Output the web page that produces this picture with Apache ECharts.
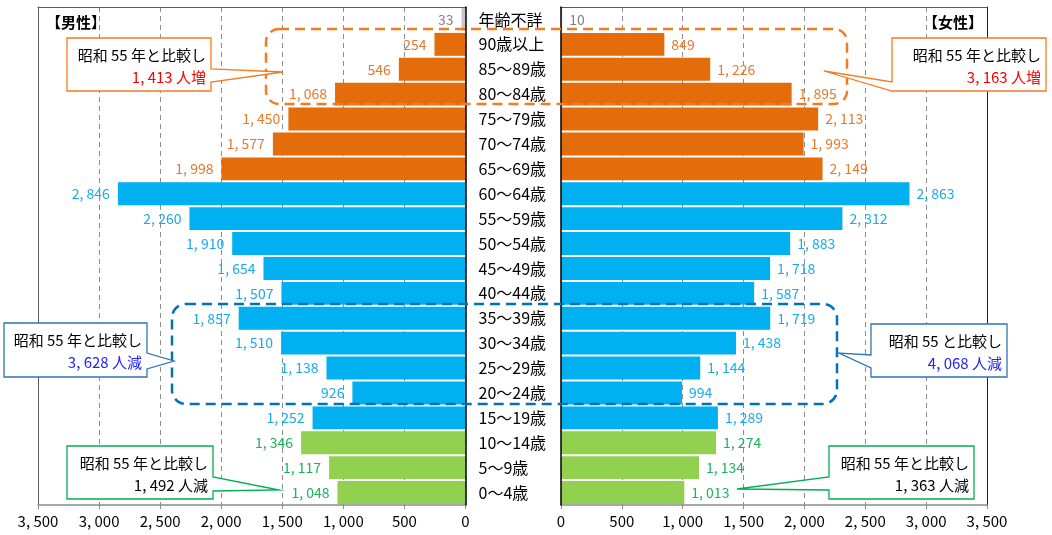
<!DOCTYPE html>
<html>
<head>
<meta charset="utf-8">
<script src="https://cdn.jsdelivr.net/npm/echarts@6/dist/echarts.min.js"></script>
<style>
  html, body { margin: 0; padding: 0; background: #ffffff; }
  #chart { width: 1052px; height: 535px; }
</style>
</head>
<body>
<div id="chart"></div>
<script>
// Age classes, top row first
const categories = [
  '年齢不詳', '90歳以上', '85～89歳', '80～84歳', '75～79歳', '70～74歳', '65～69歳',
  '60～64歳', '55～59歳', '50～54歳', '45～49歳', '40～44歳', '35～39歳', '30～34歳',
  '25～29歳', '20～24歳', '15～19歳', '10～14歳', '5～9歳', '0～4歳'
];
// Population (persons) by age class
const maleValues = [
  33, 254, 546, 1068, 1450, 1577, 1998,
  2846, 2260, 1910, 1654, 1507, 1857, 1510,
  1138, 926, 1252, 1346, 1117, 1048
];
const femaleValues = [
  10, 849, 1226, 1895, 2113, 1993, 2149,
  2863, 2312, 1883, 1718, 1587, 1719, 1438,
  1144, 994, 1289, 1274, 1134, 1013
];
// Value axis range
const axisMin = 0;
const axisMax = 3500;
const axisStep = 500;

// Panel headings
const sideTitles = ['【男性】', '【女性】'];

// Comparison notes (change since Showa 55)
const calloutHeads = [
  '昭和 55 年と比較し', '昭和 55 年と比較し',
  '昭和 55 年と比較し', '昭和 55 と比較し',
  '昭和 55 年と比較し', '昭和 55 年と比較し'
];
const calloutCounts = ['1,413', '3,163', '3,628', '4,068', '1,492', '1,363'];
const calloutUnits = ['人増', '人増', '人減', '人減', '人減', '人減'];

// ---------------------------------------------------------------------------
const CJK_FONT = '"Noto Sans CJK JP", "Noto Sans", sans-serif';
const NUM_FONT = '"Noto Sans CJK JP", "Noto Sans", sans-serif';

const palette = {
  unknown: { bar: '#C8C8C8', label: '#808080' },
  elderly: { bar: '#E46C0A', label: '#E8782A' },
  working: { bar: '#00B0F0', label: '#1AABE8' },
  young:   { bar: '#92D050', label: '#1DB25A' }
};

function ageGroup(name) {
  const lower = parseInt(name, 10);
  if (isNaN(lower)) return 'unknown';
  if (lower >= 65) return 'elderly';
  if (lower >= 15) return 'working';
  return 'young';
}

// thousands separator followed by a space, as printed on the chart
function fmt(v) {
  return Number(v).toLocaleString('en-US').replace(/,/g, ', ');
}

function barData(values) {
  return values.map((v, i) => {
    const c = palette[ageGroup(categories[i])];
    return { value: v, itemStyle: { color: c.bar }, label: { color: c.label } };
  });
}

const gridTop = 7, gridBottom = 30;
const grids = [
  { left: 38, right: 586.5, top: gridTop, bottom: gridBottom },
  { left: 561, right: 65, top: gridTop, bottom: gridBottom }
];

function valueAxis(gridIndex, inverse) {
  return {
    type: 'value', gridIndex, min: axisMin, max: axisMax, interval: axisStep,
    inverse, position: 'bottom',
    axisLine: { show: true, onZero: false, lineStyle: { color: '#8C8C8C', width: 1.5 } },
    axisTick: { show: true, length: 4, lineStyle: { color: '#8C8C8C' } },
    axisLabel: { formatter: fmt, color: '#000', fontFamily: NUM_FONT, fontSize: 15, margin: 9,
                 showMinLabel: true, showMaxLabel: true, hideOverlap: false },
    splitLine: { show: true, lineStyle: { color: '#8C8C8C', type: [5, 4], width: 1 } }
  };
}
// top frame line of each panel
function topAxis(gridIndex, inverse) {
  return {
    type: 'value', gridIndex, min: axisMin, max: axisMax, inverse, position: 'top',
    axisLine: { show: true, onZero: false, lineStyle: { color: '#5A5A5A', width: 1 } },
    axisTick: { show: false }, axisLabel: { show: false }, splitLine: { show: false }
  };
}

const option = {
  animation: false,
  backgroundColor: '#ffffff',
  grid: grids,
  xAxis: [valueAxis(0, true), valueAxis(1, false), topAxis(0, true), topAxis(1, false)],
  yAxis: [
    {
      type: 'category', gridIndex: 0, data: categories, inverse: true, position: 'right', z: 5,
      axisLine: { show: true, onZero: false, lineStyle: { color: '#000', width: 1.5 } },
      axisTick: { show: false },
      axisLabel: { color: '#000', fontFamily: CJK_FONT, fontSize: 16, margin: 13, align: 'left' }
    },
    {
      type: 'category', gridIndex: 1, data: categories, inverse: true, position: 'left', z: 5,
      axisLine: { show: true, onZero: false, lineStyle: { color: '#000', width: 1.5 } },
      axisTick: { show: false }, axisLabel: { show: false }
    },
    {
      type: 'category', gridIndex: 0, data: categories, inverse: true, position: 'left',
      axisLine: { show: true, onZero: false, lineStyle: { color: '#5A5A5A', width: 1 } },
      axisTick: { show: false }, axisLabel: { show: false }
    },
    {
      type: 'category', gridIndex: 1, data: categories, inverse: true, position: 'right',
      axisLine: { show: true, onZero: false, lineStyle: { color: '#222', width: 1 } },
      axisTick: { show: false }, axisLabel: { show: false }
    }
  ],
  series: [
    {
      name: '男性', type: 'bar', xAxisIndex: 0, yAxisIndex: 0,
      data: barData(maleValues), barCategoryGap: '8%',
      label: { show: true, position: 'left', distance: 8, formatter: p => fmt(p.value),
               fontFamily: NUM_FONT, fontSize: 14 }
    },
    {
      name: '女性', type: 'bar', xAxisIndex: 1, yAxisIndex: 1,
      data: barData(femaleValues), barCategoryGap: '8%',
      label: { show: true, position: 'right', distance: 7, formatter: p => fmt(p.value),
               fontFamily: NUM_FONT, fontSize: 14 }
    }
  ]
};

// ---- annotation layer -----------------------------------------------------
const calloutBoxes = [
  { x0: 67,  y0: 38,  x1: 211,  y1: 91,  side: 'right', a: 69,  b: 82,  tip: [283, 72],  border: '#F47B20', num: '#FF0000' },
  { x0: 892, y0: 38,  x1: 1046, y1: 91,  side: 'left',  a: 82,  b: 91,  tip: [824, 71],  border: '#F47B20', num: '#FF0000' },
  { x0: 4,   y0: 323, x1: 147,  y1: 377, side: 'right', a: 353, b: 369, tip: [174, 361], border: '#2E75B6', num: '#2424FF' },
  { x0: 871, y0: 324, x1: 1007, y1: 377, side: 'left',  a: 355, b: 368, tip: [839, 353], border: '#2E75B6', num: '#2424FF' },
  { x0: 67,  y0: 446, x1: 213,  y1: 499, side: 'right', a: 477, b: 491, tip: [279, 490], border: '#00B050', num: '#000000' },
  { x0: 829, y0: 446, x1: 974,  y1: 499, side: 'left',  a: 477, b: 490, tip: [737, 489], border: '#00B050', num: '#000000' }
];

const graphics = [];

// dashed group frames
graphics.push({
  type: 'rect', z: 50, silent: true,
  shape: { x: 266, y: 29, width: 581, height: 75, r: 13 },
  style: { fill: 'none', stroke: '#F47B20', lineWidth: 2.5, lineDash: [10, 6] }
});
graphics.push({
  type: 'rect', z: 50, silent: true,
  shape: { x: 172, y: 304, width: 665, height: 100, r: 14 },
  style: { fill: 'none', stroke: '#0070C0', lineWidth: 2.5, lineDash: [10, 6] }
});

calloutBoxes.forEach((b, i) => {
  let pts;
  if (b.side === 'right') {
    pts = [[b.x0, b.y0], [b.x1, b.y0], [b.x1, b.a], b.tip, [b.x1, b.b], [b.x1, b.y1], [b.x0, b.y1]];
  } else {
    pts = [[b.x0, b.y0], [b.x1, b.y0], [b.x1, b.y1], [b.x0, b.y1], [b.x0, b.b], b.tip, [b.x0, b.a]];
  }
  graphics.push({
    type: 'polygon', z: 60, silent: true,
    shape: { points: pts },
    style: { fill: '#ffffff', stroke: b.border, lineWidth: 1.3 }
  });
  graphics.push({
    type: 'text', z: 61, silent: true, x: b.x1 - 5, y: b.y0 + 17,
    style: { text: calloutHeads[i], align: 'right', verticalAlign: 'middle',
             fill: '#000', font: '15px ' + CJK_FONT }
  });
  graphics.push({
    type: 'text', z: 61, silent: true, x: b.x1 - 5, y: b.y0 + 39,
    style: {
      text: calloutCounts[i].replace(/,/g, ', ') + ' ' + calloutUnits[i],
      align: 'right', verticalAlign: 'middle',
      fill: b.num, font: '15px ' + CJK_FONT
    }
  });
});

graphics.push({
  type: 'text', z: 40, silent: true, x: 46, y: 22,
  style: { text: sideTitles[0], align: 'left', verticalAlign: 'middle', fill: '#000',
           font: 'bold 15px ' + CJK_FONT }
});
graphics.push({
  type: 'text', z: 40, silent: true, x: 983, y: 22,
  style: { text: sideTitles[1], align: 'right', verticalAlign: 'middle', fill: '#000',
           font: 'bold 15px ' + CJK_FONT }
});

option.graphic = graphics;

const chart = echarts.init(document.getElementById('chart'), null, { renderer: 'canvas' });
chart.setOption(option);
</script>
</body>
</html>
